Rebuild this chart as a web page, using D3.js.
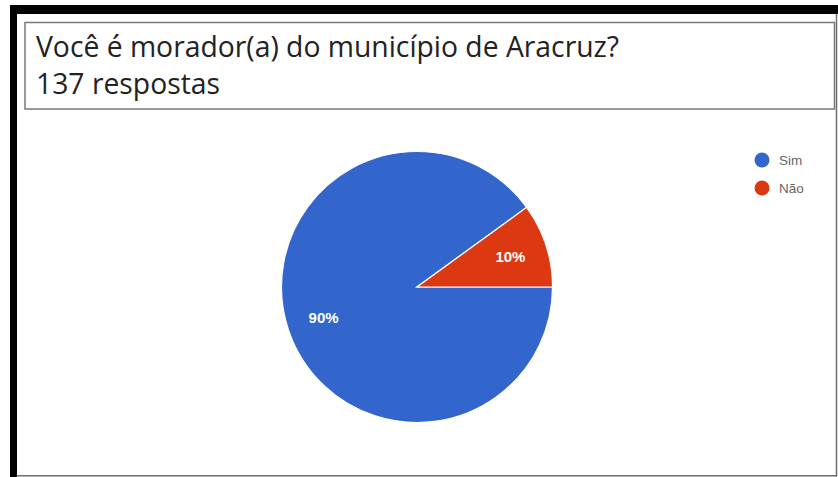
<!DOCTYPE html>
<html>
<head>
<meta charset="utf-8">
<script src="https://cdn.jsdelivr.net/npm/d3@7"></script>
<style>
  html, body { margin: 0; padding: 0; background: #fff; }
  svg { display: block; }
</style>
</head>
<body>
<svg id="chart" width="838" height="477"></svg>
<script>
// Survey answers
const categories = ["Sim", "Não"];
const values = [90, 10];
const colors = ["#3366cc", "#dc3912"];
const questionText = "Você é morador(a) do município de Aracruz?";
const responsesText = "137 respostas";

const svg = d3.select("#chart");

// Card frame: heavy black edge on top/left, thin grey edge on right/bottom
svg.append("rect").attr("x", 10).attr("y", 5).attr("width", 828).attr("height", 9).attr("fill", "#000");
svg.append("rect").attr("x", 10).attr("y", 5).attr("width", 7).attr("height", 472).attr("fill", "#000");
svg.append("line").attr("x1", 836.5).attr("x2", 836.5).attr("y1", 14).attr("y2", 476.5)
  .attr("stroke", "#6e6e6e").attr("stroke-width", 1.5);
svg.append("line").attr("x1", 17).attr("x2", 837).attr("y1", 475.8).attr("y2", 475.8)
  .attr("stroke", "#6e6e6e").attr("stroke-width", 1.5);

// Title box
svg.append("rect")
  .attr("x", 25).attr("y", 22.5).attr("width", 809.5).attr("height", 86.5)
  .attr("fill", "#fff").attr("stroke", "#7a7a7a").attr("stroke-width", 1.5);

const title = svg.append("g")
  .attr("font-family", "'Open Sans', 'Noto Sans', sans-serif")
  .attr("fill", "#222");
title.append("text").attr("x", 36).attr("y", 57).attr("font-size", 28.3).text(questionText);
title.append("text").attr("x", 36).attr("y", 94).attr("font-size", 28.3).text(responsesText);

// Pie
const cx = 417, cy = 287, radius = 135.5;
const pie = d3.pie().sort(null).value(d => d)
  .startAngle(Math.PI / 2).endAngle(Math.PI / 2 + 2 * Math.PI);
const arcs = pie(values);
const arc = d3.arc().innerRadius(0).outerRadius(radius);
const labelArc = d3.arc().innerRadius(radius * 0.725).outerRadius(radius * 0.725);

const g = svg.append("g").attr("transform", `translate(${cx},${cy})`);
g.selectAll("path.slice")
  .data(arcs)
  .join("path")
  .attr("class", "slice")
  .attr("d", arc)
  .attr("fill", (d, i) => colors[i])
  .attr("stroke", "#fff")
  .attr("stroke-width", 1.2);

g.selectAll("text.pct")
  .data(arcs)
  .join("text")
  .attr("class", "pct")
  .attr("transform", d => `translate(${labelArc.centroid(d)})`)
  .attr("text-anchor", "middle")
  .attr("dy", "0.35em")
  .attr("font-family", "Arial, 'Liberation Sans', sans-serif")
  .attr("font-size", 15)
  .attr("font-weight", "bold")
  .attr("fill", "#fff")
  .text(d => d.value + "%");

// Legend
const legend = svg.append("g").attr("transform", "translate(762,160)");
const items = legend.selectAll("g")
  .data(categories)
  .join("g")
  .attr("transform", (d, i) => `translate(0,${i * 28})`);
items.append("circle").attr("r", 7.5).attr("fill", (d, i) => colors[i]);
items.append("text")
  .attr("x", 17).attr("dy", "0.35em")
  .attr("font-family", "Arial, 'Liberation Sans', sans-serif")
  .attr("font-size", 13.5)
  .attr("fill", "#666")
  .text(d => d);
</script>
</body>
</html>
